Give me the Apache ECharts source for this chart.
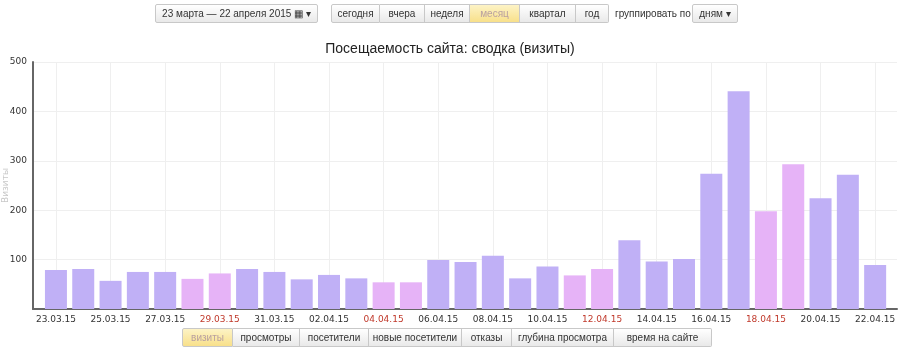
<!DOCTYPE html>
<html><head><meta charset="utf-8">
<script src="https://cdn.jsdelivr.net/npm/echarts@6/dist/echarts.min.js"></script>
<style>
html,body{margin:0;padding:0;background:#fff;}
#wrap{position:relative;width:900px;height:353px;overflow:hidden;font-family:Arial,"Liberation Sans",sans-serif;}
#chart{position:absolute;left:0;top:0;width:900px;height:353px;}
.bar{position:absolute;display:flex;z-index:5;}
.btn{box-sizing:border-box;height:19px;line-height:17px;font-size:10px;color:#333;border:1px solid #c8c8c8;border-left:none;padding:0;
background:linear-gradient(#ffffff,#e9e9e9);white-space:nowrap;text-align:center;overflow:visible;}
.btn:first-child{border-left:1px solid #c8c8c8;border-radius:2px 0 0 2px;}
.btn:last-child{border-radius:0 2px 2px 0;}
.btn.on{background:linear-gradient(#fdf3c6,#f8e08a);color:#b9a0a0;}
.txt{position:absolute;font-size:10px;color:#333;z-index:5;line-height:19px;}
</style></head>
<body><div id="wrap">
<div id="chart"></div>
<div class="bar" style="left:155px;top:4px;"><div class="btn" style="width:163px;border-radius:2px;font-size:10px;">23 марта — 22 апреля 2015 ▦ ▾</div></div>
<div class="bar" style="left:331px;top:4px;">
 <div class="btn" style="width:49px">сегодня</div><div class="btn" style="width:45px">вчера</div><div class="btn" style="width:45px">неделя</div><div class="btn on" style="width:50px">месяц</div><div class="btn" style="width:56px">квартал</div><div class="btn" style="width:33px">год</div>
</div>
<div class="txt" style="left:615px;top:4px;">группировать по</div>
<div class="bar" style="left:692px;top:4px;"><div class="btn" style="width:46px;border-radius:2px;">дням ▾</div></div>
<div class="bar" style="left:182px;top:328px;">
 <div class="btn on" style="width:51px">визиты</div><div class="btn" style="width:67px">просмотры</div><div class="btn" style="width:69px">посетители</div><div class="btn" style="width:93px">новые посетители</div><div class="btn" style="width:50px">отказы</div><div class="btn" style="width:102px">глубина просмотра</div><div class="btn" style="width:98px">время на сайте</div>
</div>
</div>
<script>
const titleText = 'Посещаемость сайта: сводка (визиты)';
const yAxisName = 'Визиты';
const dates = ['23.03.15','24.03.15','25.03.15','26.03.15','27.03.15','28.03.15','29.03.15','30.03.15','31.03.15','01.04.15','02.04.15','03.04.15','04.04.15','05.04.15','06.04.15','07.04.15','08.04.15','09.04.15','10.04.15','11.04.15','12.04.15','13.04.15','14.04.15','15.04.15','16.04.15','17.04.15','18.04.15','19.04.15','20.04.15','21.04.15','22.04.15'];
const visits = [79,81,57,75,75,61,72,81,75,60,69,62,54,54,99,95,108,62,86,68,81,139,96,101,274,441,198,293,224,272,89];
const labelEvery = 2;

function isWeekend(s){
  const p = s.split('.');
  const d = new Date(2000 + (+p[2]), (+p[1]) - 1, +p[0]);
  const w = d.getDay();
  return w === 0 || w === 6;
}
const tickIdx = dates.map((d,i)=>i).filter(i => i % labelEvery === 0);

const chart = echarts.init(document.getElementById('chart'), null, {renderer:'canvas'});
chart.setOption({
  animation:false,
  backgroundColor:'#fff',
  title:{text:titleText,left:'center',top:37,textStyle:{fontFamily:'Arial, Liberation Sans',fontSize:14,fontWeight:'normal',color:'#222'}},
  grid:{left:33,right:3,top:62,bottom:44,containLabel:false,outerBoundsMode:'none'},
  xAxis:{
    type:'value', min:-0.84, max:30.8,
    axisLine:{show:true,onZero:false,lineStyle:{color:'#666',width:2}},
    axisTick:{show:false,customValues:tickIdx},
    axisLabel:{customValues:tickIdx,fontFamily:'DejaVu Sans',fontSize:9,margin:6,
      formatter:v=>dates[Math.round(v)]||'',
      color:v=>isWeekend(dates[Math.round(v)]||'01.01.15')?'#c0392b':'#333'},
    splitLine:{show:true,lineStyle:{color:'#efefef',width:1}}
  },
  yAxis:{
    type:'value', min:0, max:500, interval:100,
    name:yAxisName, nameLocation:'middle', nameGap:23, nameRotate:90, nameMoveOverlap:false,
    nameTextStyle:{fontFamily:'DejaVu Sans',fontSize:9,color:'#c8c8c8'},
    axisLine:{show:true,onZero:false,lineStyle:{color:'#666',width:2}},
    axisTick:{show:false},
    axisLabel:{showMinLabel:false,fontFamily:'DejaVu Sans',fontSize:9,color:'#333',margin:6},
    splitLine:{show:true,lineStyle:{color:'#efefef',width:1}}
  },
  series:[{
    type:'bar', barWidth:22,
    data:visits.map((v,i)=>({value:[i,v],itemStyle:{color:isWeekend(dates[i])?'#e6b3f7':'#c0b0f6'}}))
  }]
});
</script>
</body></html>
